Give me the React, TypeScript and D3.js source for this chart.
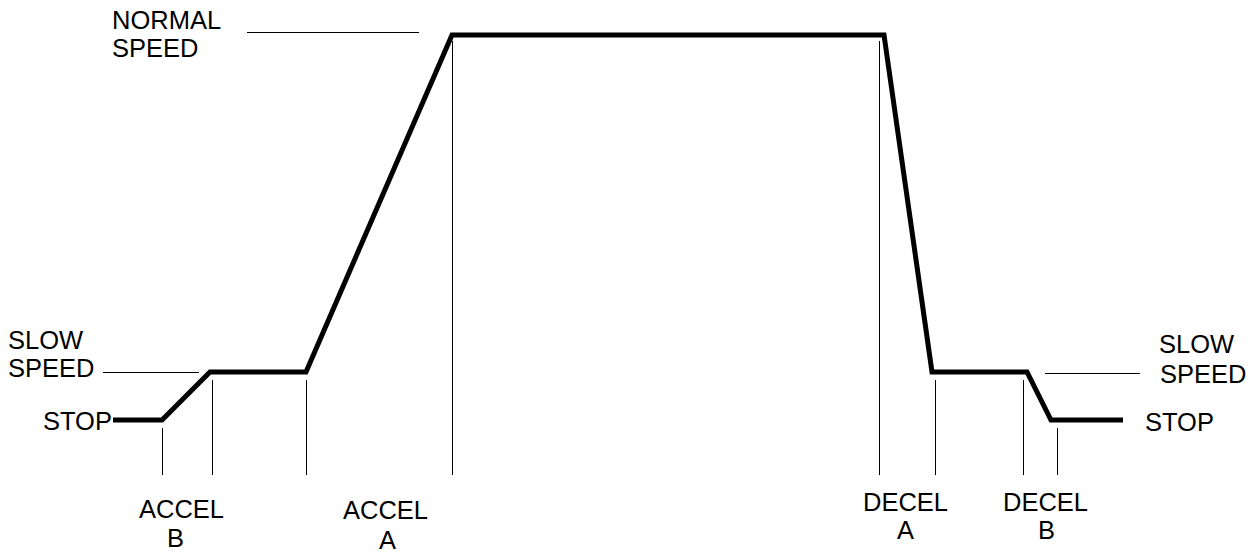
import React from "react";
import * as d3 from "d3";

// Speed levels (arbitrary units)
const speedLevels = { stop: 0, slow: 10, normal: 80 };

// Profile: time (arbitrary units) and speed
const profileTime = [0, 49, 97, 193, 339, 771, 819, 914, 938, 1010];
const profileSpeed = [0, 0, 10, 10, 80, 80, 10, 10, 0, 0];

// Phase boundary markers: time and the speed level the marker rises to
const markerTime = [49, 99, 193, 339, 766, 822, 910, 944];
const markerSpeed = [0, 10, 10, 80, 80, 10, 10, 0];

const W = 1254;
const H = 555;

export default function App() {
  const x = d3.scaleLinear().domain([0, 1010]).range([113, 1123]);
  const y = d3.scaleLinear().domain([0, 80]).range([420, 35]);

  const pts: [number, number][] = profileTime.map((t, i) => [t, profileSpeed[i]]);
  const line = d3
    .line<[number, number]>()
    .x((d) => x(d[0]))
    .y((d) => y(d[1]));

  const font = { fontFamily: "'Liberation Sans', Arial, sans-serif", fontSize: 25.5, fill: "#000" };
  const thin = { stroke: "#000", strokeWidth: 1, shapeRendering: "crispEdges" as const };
  const markerBottom = 475;

  return (
    <svg
      width={W}
      height={H}
      style={{ position: "absolute", left: 0, top: 0, background: "#fff" }}
    >
      <rect x={0} y={0} width={W} height={H} fill="#fff" />
      {/* leader lines */}
      <line x1={247} x2={419} y1={y(speedLevels.normal) - 2.5} y2={y(speedLevels.normal) - 2.5} {...thin} />
      <line x1={103} x2={199} y1={y(speedLevels.slow) + 0.5} y2={y(speedLevels.slow) + 0.5} {...thin} />
      <line x1={1045} x2={1140} y1={y(speedLevels.slow) + 1.5} y2={y(speedLevels.slow) + 1.5} {...thin} />

      {/* markers */}
      {markerTime.map((t, i) => (
        <line
          key={i}
          x1={x(t) + 0.5}
          x2={x(t) + 0.5}
          y1={y(markerSpeed[i]) + (markerSpeed[i] === 80 ? 6 : 8)}
          y2={markerBottom}
          {...thin}
        />
      ))}

      {/* speed profile */}
      <path d={line(pts) || ""} fill="none" stroke="#000" strokeWidth={5} strokeLinejoin="miter" />

      {/* labels */}
      <text x={112} y={29} {...font}>NORMAL</text>
      <text x={112} y={57} {...font}>SPEED</text>

      <text x={8} y={349} {...font}>SLOW</text>
      <text x={8} y={377} {...font}>SPEED</text>
      <text x={43} y={430} {...font}>STOP</text>

      <text x={1159} y={353} {...font}>SLOW</text>
      <text x={1160} y={383} {...font}>SPEED</text>
      <text x={1145} y={431} {...font}>STOP</text>

      <text x={139} y={518} {...font}>ACCEL</text>
      <text x={167} y={547} {...font}>B</text>

      <text x={343} y={519} {...font}>ACCEL</text>
      <text x={379} y={549} {...font}>A</text>

      <text x={863} y={511} {...font}>DECEL</text>
      <text x={897} y={539} {...font}>A</text>

      <text x={1003} y={511} {...font}>DECEL</text>
      <text x={1038} y={539} {...font}>B</text>
    </svg>
  );
}
